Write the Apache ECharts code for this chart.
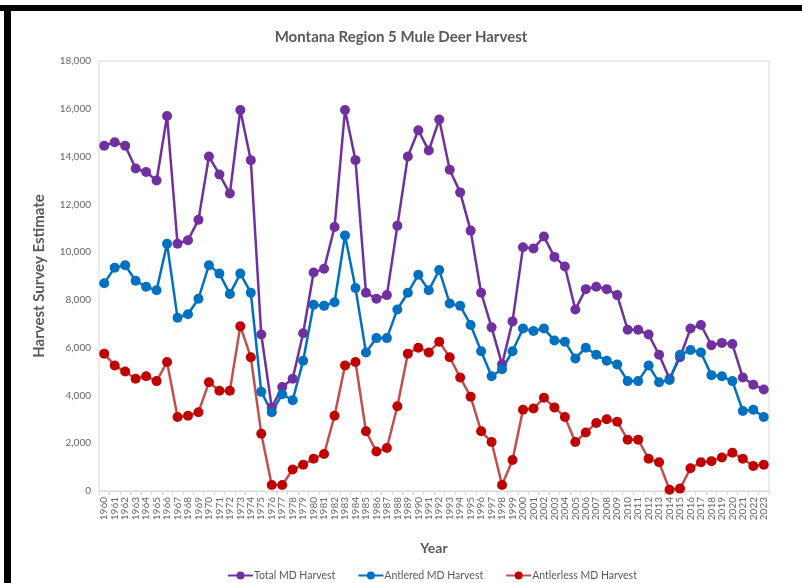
<!DOCTYPE html>
<html>
<head>
<meta charset="utf-8">
<script src="https://cdn.jsdelivr.net/npm/echarts@6/dist/echarts.min.js"></script>
<style>
html,body{margin:0;padding:0;background:#fff;}
#c{width:802px;height:583px;}
</style>
</head>
<body>
<div id="c"></div>
<script>
const years = [];
for (let y = 1960; y <= 2023; y++) years.push(String(y));

const totalHarvest = [14450,14600,14450,13500,13350,13000,15700,10350,10500,11350,
  14000,13250,12450,15950,13850,6550,3500,4350,4700,6600,
  9150,9300,11050,15950,13850,8300,8050,8200,11100,14000,
  15100,14250,15550,13450,12500,10900,8300,6850,5300,7100,
  10200,10150,10650,9800,9400,7600,8450,8550,8450,8200,
  6750,6750,6550,5700,4700,5600,6800,6950,6100,6200,
  6150,4750,4450,4250];

const antleredHarvest = [8700,9350,9450,8800,8550,8400,10350,7250,7400,8050,
  9450,9100,8250,9100,8300,4150,3300,4050,3800,5450,
  7800,7750,7900,10700,8500,5800,6400,6400,7600,8300,
  9050,8400,9250,7850,7750,6950,5850,4800,5100,5850,
  6800,6700,6800,6300,6250,5550,6000,5700,5450,5300,
  4600,4600,5250,4550,4650,5700,5900,5800,4850,4800,
  4600,3350,3400,3100];

const antlerlessHarvest = [5750,5250,5000,4700,4800,4600,5400,3100,3150,3300,
  4550,4200,4200,6900,5600,2400,250,250,900,1100,
  1350,1550,3150,5250,5400,2500,1650,1800,3550,5750,
  6000,5800,6250,5600,4750,3950,2500,2050,250,1300,
  3400,3450,3900,3500,3100,2050,2450,2850,3000,2900,
  2150,2150,1350,1200,50,100,950,1200,1250,1400,
  1600,1350,1050,1100];

const seriesNames = ['Total MD Harvest','Antlered MD Harvest','Antlerless MD Harvest'];

const chart = echarts.init(document.getElementById('c'));
const font = 'Lato, "Open Sans", sans-serif';
function mk(name, data, lineColor, markColor) {
  return {
    name: name, type: 'line', data: data,
    symbol: 'circle', symbolSize: 10,
    lineStyle: { color: lineColor, width: 2.5 },
    itemStyle: { color: markColor },
    emphasis: { disabled: true },
    animation: false
  };
}
chart.setOption({
  backgroundColor: '#fff',
  animation: false,
  title: {
    text: 'Montana Region 5 Mule Deer Harvest',
    left: 396, top: 25, textAlign: 'center',
    textStyle: { fontFamily: font, fontSize: 15, fontWeight: 'bold', color: '#595959' }
  },
  graphic: [
    { type: 'rect', shape: { x: 0, y: 5, width: 802, height: 6 }, style: { fill: '#000' } },
    { type: 'rect', shape: { x: 4, y: 5, width: 7, height: 578 }, style: { fill: '#000' } }
  ],
  legend: {
    data: seriesNames,
    left: 222, top: 565,
    itemWidth: 25, itemHeight: 10, itemGap: 22,
    textStyle: { fontFamily: font, fontSize: 10.5, color: '#595959', padding: [0,0,0,-4] }
  },
  grid: { left: 99, right: 33, top: 61, bottom: 92, show: true, borderColor: '#d9d9d9', borderWidth: 1 },
  xAxis: {
    type: 'category', data: years, boundaryGap: true,
    name: 'Year', nameLocation: 'middle', nameGap: 50,
    nameTextStyle: { fontFamily: font, fontSize: 14, fontWeight: 'bold', color: '#595959' },
    axisLine: { lineStyle: { color: '#d9d9d9' } },
    axisTick: { show: true, length: 4, lineStyle: { color: '#d9d9d9' } },
    axisLabel: { interval: 0, rotate: 90, fontFamily: font, fontSize: 10, color: '#666', margin: 6 },
    splitLine: { show: false }
  },
  yAxis: {
    type: 'value', min: 0, max: 18000, interval: 2000,
    name: 'Harvest Survey Estimate', nameLocation: 'middle', nameGap: 52,
    nameTextStyle: { fontFamily: font, fontSize: 15, fontWeight: 'bold', color: '#595959' },
    axisLine: { show: false }, axisTick: { show: false },
    splitLine: { show: false },
    axisLabel: { fontFamily: font, fontSize: 10, color: '#666', margin: 8,
      formatter: v => v.toLocaleString('en-US') }
  },
  series: [
    mk(seriesNames[0], totalHarvest, '#7030A0', '#7030A0'),
    mk(seriesNames[1], antleredHarvest, '#0070C0', '#0070C0'),
    mk(seriesNames[2], antlerlessHarvest, '#C0504D', '#C00000')
  ]
});
</script>
</body>
</html>
